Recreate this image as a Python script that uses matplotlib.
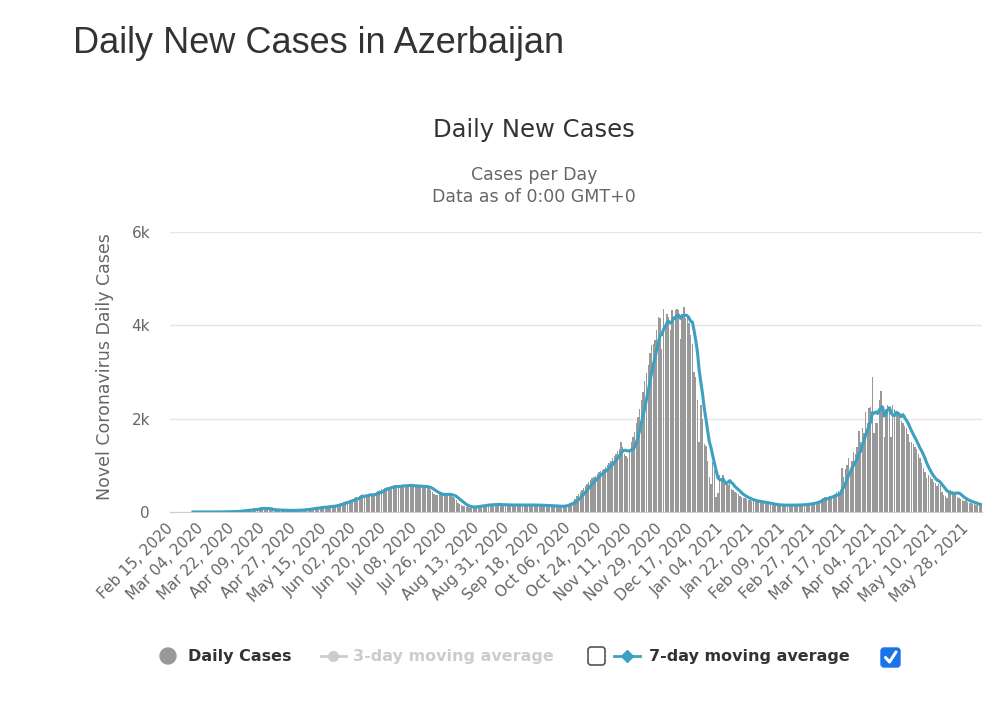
import numpy as np
import pandas as pd
import matplotlib
matplotlib.use("Agg")
import matplotlib.pyplot as plt
import matplotlib.transforms as mtransforms
from matplotlib.patches import FancyBboxPatch, Circle
from matplotlib.lines import Line2D

# daily new cases, month by month (Feb 15 2020 .. Jun 6 2021)
feb_2020 = [0, 0, 0, 0, 0, 0, 0, 0, 0, 0, 0, 0, 0, 1, 0]
mar_2020 = [2, 0, 0, 0, 3, 3, 0, 0, 2, 0, 0, 0, 4, 0, 8, 5, 0, 6, 10, 0,
            9, 12, 7, 15, 6, 29, 43, 17, 27, 64, 25]
apr_2020 = [61, 41, 43, 78, 63, 57, 76, 105, 104, 65, 67, 40, 50, 49, 56, 30,
            57, 33, 25, 38, 44, 38, 30, 44, 25, 28, 33, 39, 49, 38]
may_2020 = [50, 40, 38, 52, 76, 67, 77, 75, 92, 98, 80, 85, 110, 120, 115, 105,
            110, 120, 125, 130, 140, 150, 160, 175, 190, 200, 210, 230, 240, 255, 265]
jun_2020 = [280, 300, 320, 310, 340, 360, 380, 350, 360, 370, 380, 390, 350, 400,
            420, 440, 470, 490, 500, 520, 530, 540, 530, 550, 560, 570, 540, 530, 560, 580]
jul_2020 = [570, 580, 560, 590, 550, 560, 540, 550, 570, 540, 560, 550, 530, 540,
            520, 510, 480, 420, 380, 370, 360, 380, 390, 370, 380, 400, 360, 370, 350, 330, 300]
aug_2020 = [250, 200, 180, 150, 130, 120, 110, 100, 95, 105, 100, 120, 130, 140,
            150, 135, 145, 150, 160, 155, 170, 165, 160, 150, 170, 160, 155, 150, 145, 160, 150]
sep_2020 = [150, 145, 155, 140, 150, 160, 145, 150, 155, 150, 140, 145, 150, 160,
            155, 150, 145, 140, 150, 145, 140, 135, 130, 140, 135, 130, 125, 130, 120, 125]
oct_2020 = [110, 120, 130, 150, 160, 180, 200, 220, 240, 270, 340, 390, 430, 470,
            510, 550, 600, 640, 680, 720, 760, 780, 820, 850, 880, 900, 930, 970, 1000, 1050, 1100]
nov_2020 = [1150, 1200, 1250, 1300, 1350, 1500, 1400, 1250, 1200, 1160, 1300, 1500,
            1600, 1720, 1900, 2040, 2200, 2400, 2580, 2800, 2970, 3150, 3400, 3580,
            3600, 3680, 3900, 4180, 4150, 3500]
dec_2020 = [4360, 4000, 4250, 4180, 3900, 4330, 4100, 4330, 4360, 4330, 3700, 4250,
            4400, 4150, 4250, 4050, 3800, 3600, 3000, 2900, 2400, 1500, 2290, 2000,
            1460, 1420, 1100, 760, 600, 1080, 900]
jan_2021 = [320, 400, 790, 700, 790, 640, 600, 570, 620, 500, 480, 430, 400, 380,
            350, 330, 300, 290, 280, 260, 250, 240, 230, 220, 210, 230, 200, 210, 200, 190, 180]
feb_2021 = [170, 160, 165, 150, 155, 140, 150, 145, 150, 140, 155, 145, 150, 140,
            155, 150, 145, 160, 150, 155, 165, 160, 170, 175, 180, 190, 200, 210]
mar_2021 = [220, 240, 260, 280, 300, 320, 330, 310, 340, 350, 360, 380, 420, 460,
            360, 940, 750, 920, 1000, 1150, 800, 1100, 1290, 1250, 1400, 1740, 1500,
            1800, 1700, 2150, 1900]
apr_2021 = [2220, 2250, 2900, 1700, 1900, 1900, 2400, 2600, 2300, 1600, 2200, 2300,
            2250, 1600, 2300, 2200, 2100, 2100, 2050, 1950, 1900, 1850, 1800, 1680,
            1500, 1500, 1450, 1400, 1350, 1250]
may_2021 = [1150, 1050, 950, 850, 720, 800, 750, 700, 650, 620, 560, 600, 580, 420,
            360, 340, 290, 450, 480, 460, 420, 400, 330, 300, 280, 260, 240, 250, 220, 200, 190]
jun_2021 = [180, 170, 160, 150, 140, 130]

start_date = "2020-02-15"
first_case = "2020-02-28"
y_ticks = [0, 2000, 4000, 6000]
y_tick_labels = ["0", "2k", "4k", "6k"]

daily = (feb_2020 + mar_2020 + apr_2020 + may_2020 + jun_2020 + jul_2020 + aug_2020
         + sep_2020 + oct_2020 + nov_2020 + dec_2020 + jan_2021 + feb_2021 + mar_2021
         + apr_2021 + may_2021 + jun_2021)
dates = pd.date_range(start_date, periods=len(daily), freq="D")
cases = pd.Series(daily, index=dates, dtype=float)
avg7 = cases.rolling(7, min_periods=1).mean()
avg7[dates < first_case] = np.nan

BAR = "#999999"
LINE = "#3ca0c0"
TXT = "#333333"
SUB = "#666666"
W, H = 996, 701

fig = plt.figure(figsize=(W / 100, H / 100), dpi=100)
ax = fig.add_axes([170 / W, 1 - 512 / H, 812 / W, 280 / H])

x = np.arange(len(dates))
ax.bar(x, cases.values, width=0.8, color=BAR, linewidth=0, zorder=2)
ax.plot(x, avg7.values, color=LINE, lw=2.2, solid_joinstyle="round", zorder=3)

ax.set_xlim(-0.5, len(dates) - 0.5)
ax.set_ylim(0, 6000)
ax.set_yticks(y_ticks)
ax.set_yticklabels(y_tick_labels)
ax.set_xticks(x[::18])
ax.set_xticklabels([d.strftime("%b %d, %Y") for d in dates[::18]],
                   rotation=45, ha="right", va="center", rotation_mode="anchor")
shift = mtransforms.ScaledTranslation(4 / 100, 0, fig.dpi_scale_trans)
for lab in ax.get_xticklabels():
    lab.set_transform(lab.get_transform() + shift)
ax.tick_params(axis="x", length=0, pad=10, labelsize=11, labelcolor=SUB)
ax.tick_params(axis="y", length=0, pad=14.4, labelsize=11, labelcolor=SUB)
ax.grid(axis="y", color="#e6e6e6", lw=1)
ax.set_axisbelow(True)
for side in ["left", "right", "top"]:
    ax.spines[side].set_visible(False)
ax.spines["bottom"].set_color("#cccccc")

# titles
fig.text(73 / W, 1 - 53 / H, "Daily New Cases in Azerbaijan", family="Liberation Sans",
         fontsize=26, color=TXT, ha="left", va="baseline")
fig.text(534 / W, 1 - 137 / H, "Daily New Cases", fontsize=17.5, color=TXT,
         ha="center", va="baseline")
fig.text(534 / W, 1 - 180 / H, "Cases per Day", fontsize=12.5, color=SUB,
         ha="center", va="baseline")
fig.text(534 / W, 1 - 202 / H, "Data as of 0:00 GMT+0", fontsize=12.5, color=SUB,
         ha="center", va="baseline")
fig.text(105 / W, 1 - 367 / H, "Novel Coronavirus Daily Cases", fontsize=12.5,
         color=SUB, rotation=90, ha="center", va="center")

# legend row, drawn in pixel space
lg = fig.add_axes([0, 0, 1, 1], zorder=5)
lg.set_xlim(0, W)
lg.set_ylim(H, 0)
lg.axis("off")
ly = 656
lg.add_patch(Circle((168, ly), 8, color=BAR))
lg.text(188, ly, "Daily Cases", fontsize=11.5, weight="bold", color=TXT, va="center")
lg.add_line(Line2D([321, 346], [ly, ly], color="#cccccc", lw=2))
lg.add_line(Line2D([333], [ly], marker="o", ms=7, color="#cccccc"))
lg.text(353, ly, "3-day moving average", fontsize=11.5, weight="bold", color="#cccccc",
        va="center")
lg.add_patch(FancyBboxPatch((588, 647), 17, 18, boxstyle="round,pad=0,rounding_size=3",
                            facecolor="white", edgecolor="#555555", lw=1.2))
lg.add_line(Line2D([614, 640], [ly, ly], color=LINE, lw=2))
lg.add_line(Line2D([627], [ly], marker="D", ms=6, color=LINE))
lg.text(649, ly, "7-day moving average", fontsize=11.5, weight="bold", color=TXT,
        va="center")
lg.add_patch(FancyBboxPatch((881, 648), 19, 19, boxstyle="round,pad=0,rounding_size=3",
                            facecolor="#1a73e8", edgecolor="#1a73e8", lw=1))
lg.add_line(Line2D([885.5, 889.5, 896], [657.5, 662, 652], color="white", lw=2.2,
                   solid_capstyle="round", solid_joinstyle="round"))

fig.savefig("out.png", dpi=100)
